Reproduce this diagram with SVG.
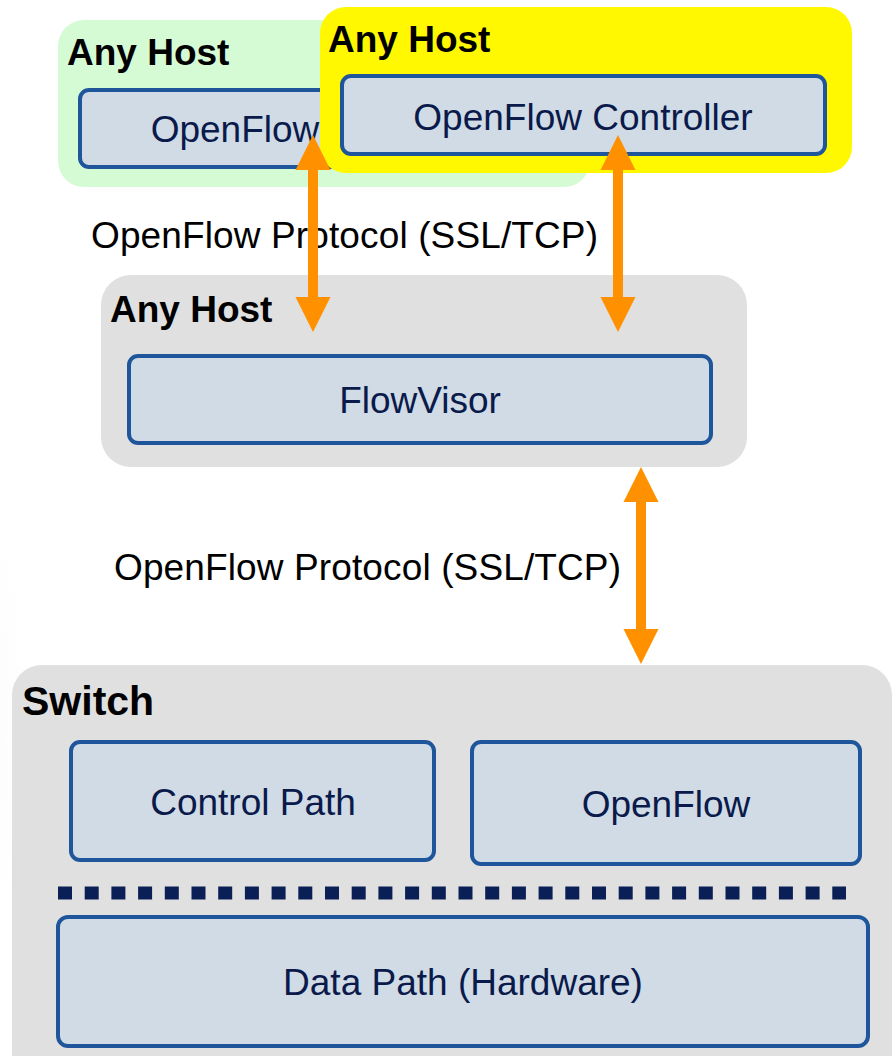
<svg xmlns="http://www.w3.org/2000/svg" width="894" height="1056" viewBox="0 0 894 1056">
<defs>
<radialGradient id="bg" cx="0" cy="0.55" r="0.5">
<stop offset="0" stop-color="#ececec"/>
<stop offset="1" stop-color="#ffffff" stop-opacity="0"/>
</radialGradient>
<style>
.host{font-family:"Liberation Sans",Arial,sans-serif;font-weight:bold;font-size:37px;fill:#000}
.inner{fill:#d0dbe6;stroke:#1f569b;stroke-width:4}
.lbl{font-family:"Liberation Sans",Arial,sans-serif;font-size:37px;fill:#0a1a4a;text-anchor:middle}
.proto{font-family:"Liberation Sans",Arial,sans-serif;font-size:37px;fill:#000}
.arrow{fill:#ff9100}
</style>
</defs>
<rect x="0" y="0" width="894" height="1056" fill="#ffffff"/>
<rect x="-100" y="300" width="300" height="756" fill="url(#bg)"/>

<g id="host-green">
<rect x="58" y="20" width="532" height="167" rx="26" fill="#d5fbd5"/>
<text class="host" x="67" y="65">Any Host</text>
<g id="openflow-green">
<rect class="inner" x="80" y="90" width="270" height="77" rx="9"/>
<text class="lbl" x="235" y="142">OpenFlow</text>
</g>
</g>

<g id="host-yellow">
<rect x="320" y="7" width="532" height="166" rx="26" fill="#fff800"/>
<text class="host" x="328" y="52">Any Host</text>
<g id="controller">
<rect class="inner" x="342" y="76" width="483" height="78" rx="9"/>
<text class="lbl" x="583" y="130">OpenFlow Controller</text>
</g>
</g>

<text id="proto-label-1" class="proto" x="91" y="248" textLength="507">OpenFlow Protocol (SSL/TCP)</text>

<g id="host-gray">
<rect x="101" y="275" width="646" height="192" rx="30" fill="#e0e0e0"/>
<text class="host" x="110" y="322">Any Host</text>
<g id="flowvisor">
<rect class="inner" x="129" y="356" width="582" height="87" rx="9"/>
<text class="lbl" x="420" y="413">FlowVisor</text>
</g>
</g>

<text id="proto-label-2" class="proto" x="114" y="580" textLength="507">OpenFlow Protocol (SSL/TCP)</text>

<g id="switch">
<rect x="12" y="665" width="880" height="420" rx="30" fill="#e0e0e0"/>
<text class="host" x="22" y="715" style="font-size:41px">Switch</text>
<g id="control-path">
<rect class="inner" x="71" y="742" width="363" height="118" rx="9"/>
<text class="lbl" x="253" y="815">Control Path</text>
</g>
<g id="openflow-switch">
<rect class="inner" x="472" y="742" width="388" height="122" rx="9"/>
<text class="lbl" x="666" y="817">OpenFlow</text>
</g>
<line x1="58" y1="893" x2="846" y2="893" stroke="#0a1f55" stroke-width="13" stroke-dasharray="14 12.7"/>
<g id="data-path">
<rect class="inner" x="58" y="917" width="810" height="129" rx="10"/>
<text class="lbl" x="463" y="995">Data Path (Hardware)</text>
</g>
</g>

<g id="connectors">
<path class="arrow" d="M313,135 L330.5,170 L318,170 L318,297 L330.5,297 L313,332 L295.5,297 L308,297 L308,170 L295.5,170 Z"/>
<path class="arrow" d="M618,135 L635.5,170 L623,170 L623,297 L635.5,297 L618,332 L600.5,297 L613,297 L613,170 L600.5,170 Z"/>
<path class="arrow" d="M641,467 L658.5,502 L646,502 L646,629 L658.5,629 L641,664 L623.5,629 L636,629 L636,502 L623.5,502 Z"/>
</g>
</svg>
